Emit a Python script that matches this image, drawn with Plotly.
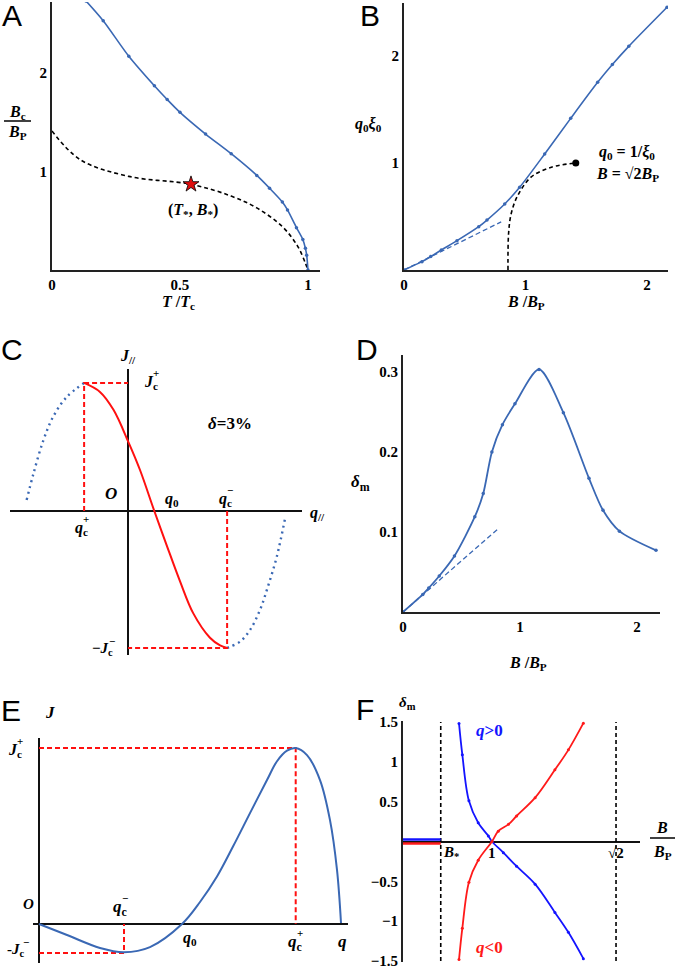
import plotly.graph_objects as go

W, H = 675, 968

# ---------------- DATA ----------------
# Panel A : Bc/BP vs T/Tc
a_blue_t = [0.133, 0.2, 0.3, 0.4, 0.45, 0.5, 0.6, 0.7, 0.8, 0.85, 0.9, 0.92, 0.955, 0.98, 0.99, 0.995, 1.0]
a_blue_b = [2.73, 2.53, 2.17, 1.87, 1.73, 1.60, 1.38, 1.18, 0.96, 0.83, 0.69, 0.61, 0.43, 0.31, 0.22, 0.15, 0.0]
a_dash_t = [0.0, 0.11, 0.3, 0.543, 0.7, 0.8, 0.9, 0.96, 0.99, 1.0]
a_dash_b = [1.41, 1.12, 0.95, 0.87, 0.75, 0.63, 0.44, 0.24, 0.07, 0.0]
a_star_t = [0.543]
a_star_b = [0.87]
a_xticks = [0, 0.5, 1]
a_xtext = ["0", "0.5", "1"]
a_yticks = [1, 2]
a_ytext = ["1", "2"]

# Panel B : q0 xi0 vs B/BP
b_blue_x = [0.0, 0.148, 0.22, 0.307, 0.436, 0.615, 0.683, 0.829, 0.952, 1.158, 1.372, 1.594, 1.715, 1.85, 2.165]
b_blue_y = [0.0, 0.078, 0.125, 0.187, 0.274, 0.405, 0.467, 0.617, 0.773, 1.084, 1.417, 1.754, 1.92, 2.09, 2.455]
b_tan_x = [0.0, 0.80]
b_tan_y = [0.0, 0.45]
b_dash_x = [0.856, 0.861, 0.883, 0.938, 1.048, 1.213, 1.414]
b_dash_y = [0.0, 0.343, 0.53, 0.70, 0.87, 0.96, 1.0]
b_dot_x = [1.414]
b_dot_y = [1.0]
b_xticks = [0, 1, 2]
b_xtext = ["0", "1", "2"]
b_yticks = [1, 2]
b_ytext = ["1", "2"]

# Panel C : J// vs q// (schematic, delta = 3%)
c_red_q = [-1.69, -1.08, -0.56, 0.01, 0.46, 1.01, 1.49, 2.0, 2.51, 3.15, 3.54, 3.81]
c_red_j = [1.0, 0.93, 0.79, 0.54, 0.32, 0.0, -0.27, -0.55, -0.80, -0.99, -1.05, -1.07]
c_bl_q = [-3.9, -3.64, -3.26, -2.87, -2.36, -1.69]
c_bl_j = [0.086, 0.29, 0.55, 0.74, 0.89, 1.0]
c_br_q = [3.81, 3.92, 4.31, 4.69, 5.08, 5.38, 5.72, 6.04]
c_br_j = [-1.07, -1.06, -1.02, -0.93, -0.77, -0.59, -0.357, -0.057]
c_qcp, c_jcp = -1.69, 1.0
c_qcm, c_jcm = 3.81, -1.07

# Panel D : delta_m vs B/BP
d_blue_x = [0.0, 0.169, 0.22, 0.31, 0.44, 0.614, 0.686, 0.76, 0.85, 0.957, 1.163, 1.371, 1.59, 1.71, 1.85, 2.163]
d_blue_y = [0.0, 0.022, 0.030, 0.045, 0.070, 0.119, 0.148, 0.200, 0.234, 0.260, 0.303, 0.249, 0.167, 0.127, 0.101, 0.077]
d_tan_x = [0.0, 0.806]
d_tan_y = [0.0, 0.103]
d_xticks = [0, 1, 2]
d_xtext = ["0", "1", "2"]
d_yticks = [0.1, 0.2, 0.3]
d_ytext = ["0.1", "0.2", "0.3"]

# Panel E : J vs q (schematic)
e_q = [0.0, 0.28, 0.61, 0.85, 1.11, 1.43, 1.61, 1.78, 1.94, 2.11, 2.28, 2.38, 2.48, 2.567, 2.68, 2.81, 2.91, 2.98, 3.02]
e_j = [0.0, -0.0625, -0.136, -0.16, -0.131, 0.0, 0.125, 0.27, 0.44, 0.63, 0.818, 0.925, 0.985, 1.0, 0.96, 0.818, 0.59, 0.307, 0.006]
e_qcp, e_jcp = 2.567, 1.0
e_qcm, e_jcm = 0.85, -0.165

# Panel F : delta_m vs B/BP
f_pos_x = [0.890, 0.901, 0.923, 0.954, 0.988, 1.0, 1.038, 1.082, 1.144, 1.210, 1.255, 1.305]
f_pos_y = [1.48, 1.09, 0.51, 0.235, 0.07, 0.0, -0.14, -0.31, -0.535, -0.89, -1.14, -1.47]
f_neg_x = [0.890, 0.901, 0.923, 0.954, 1.0, 1.021, 1.055, 1.082, 1.144, 1.210, 1.255, 1.305]
f_neg_y = [-1.48, -1.09, -0.51, -0.235, 0.0, 0.13, 0.215, 0.32, 0.55, 0.90, 1.15, 1.485]
f_bstar = 0.829
f_sqrt2 = 1.414
f_xmin = 0.703
f_yticks = [-1.5, -1, -0.5, 0.5, 1, 1.5]
f_ytext = ["\u22121.5", "\u22121", "\u22120.5", "0.5", "1", "1.5"]

# ---------------- STYLE ----------------
BLUE = "#3a68b4"
RED = "#ff1010"
FB = "#1414ff"
FR = "#ff1a1a"
SERIF = "Liberation Serif"
SANS = "Liberation Sans"


def xd(x0, x1):
    return [x0 / W, x1 / W]


def yd(ybot, ytop):
    return [1 - ybot / H, 1 - ytop / H]


def px(x):
    return x / W


def py(y):
    return 1 - y / H


fig = go.Figure()


def add(x, y, ax, **kw):
    fig.add_trace(go.Scatter(x=x, y=y, xaxis="x" + ax, yaxis="y" + ax, showlegend=False,
                             hoverinfo="skip", **kw))


# Panel A
add(a_dash_t, a_dash_b, "", mode="lines", line=dict(color="black", width=1.6, dash="4px,3px", shape="spline"))
add(a_blue_t, a_blue_b, "", mode="lines+markers", line=dict(color=BLUE, width=1.6, shape="spline", smoothing=0.8),
    marker=dict(size=3.5, color=BLUE))
add(a_star_t, a_star_b, "", mode="markers",
    marker=dict(symbol="star", size=12, color="#e01010", line=dict(color="black", width=0.8)))

# Panel B
add(b_tan_x, b_tan_y, "2", mode="lines", line=dict(color=BLUE, width=1.3, dash="5px,3px"))
add(b_dash_x, b_dash_y, "2", mode="lines", line=dict(color="black", width=1.6, dash="4px,3px", shape="spline"))
add(b_dot_x, b_dot_y, "2", mode="markers", marker=dict(size=7, color="black"))
add(b_blue_x, b_blue_y, "2", mode="lines+markers", line=dict(color=BLUE, width=1.6, shape="spline", smoothing=0.8),
    marker=dict(size=3.5, color=BLUE))

# Panel C
add(c_bl_q, c_bl_j, "3", mode="lines", line=dict(color=BLUE, width=2.4, dash="2px,4px", shape="spline"))
add(c_br_q, c_br_j, "3", mode="lines", line=dict(color=BLUE, width=2.4, dash="2px,4px", shape="spline"))
add([c_qcp, c_qcp, 0], [0, c_jcp, c_jcp], "3", mode="lines", line=dict(color=RED, width=2, dash="5px,3px"))
add([c_qcm, c_qcm, 0], [0, c_jcm, c_jcm], "3", mode="lines", line=dict(color=RED, width=2, dash="5px,3px"))
add(c_red_q, c_red_j, "3", mode="lines", line=dict(color=RED, width=2, shape="spline"))

# Panel D
add(d_tan_x, d_tan_y, "4", mode="lines", line=dict(color=BLUE, width=1.3, dash="5px,3px"))
add(d_blue_x, d_blue_y, "4", mode="lines+markers", line=dict(color=BLUE, width=1.8, shape="spline", smoothing=0.8),
    marker=dict(size=3.5, color=BLUE))

# Panel E
add([0, e_qcp, e_qcp], [e_jcp, e_jcp, 0], "5", mode="lines", line=dict(color=RED, width=2, dash="5px,3px"))
add([0, e_qcm, e_qcm], [e_jcm, e_jcm, 0], "5", mode="lines", line=dict(color=RED, width=2, dash="5px,3px"))
add(e_q, e_j, "5", mode="lines", line=dict(color=BLUE, width=2, shape="spline"))

# Panel F
add([f_bstar, f_bstar], [-1.5, 1.5], "6", mode="lines", line=dict(color="black", width=1.6, dash="4px,3px"))
add([f_sqrt2, f_sqrt2], [-1.5, 1.5], "6", mode="lines", line=dict(color="black", width=1.6, dash="4px,3px"))
add([f_xmin, f_bstar], [0.025, 0.025], "6", mode="lines", line=dict(color=FB, width=2.5))
add([f_xmin, f_bstar], [-0.025, -0.025], "6", mode="lines", line=dict(color=FR, width=2.5))
add(f_pos_x, f_pos_y, "6", mode="lines+markers", line=dict(color=FB, width=1.8, shape="spline"),
    marker=dict(size=3, color=FB))
add(f_neg_x, f_neg_y, "6", mode="lines+markers", line=dict(color=FR, width=1.8, shape="spline"),
    marker=dict(size=3, color=FR))

tickfont = dict(family=SERIF, size=15, color="black", weight="bold")


def axis_std(domain, rng, tv, tt, anchor):
    return dict(domain=domain, range=rng, anchor=anchor, showline=True, linecolor="#222", linewidth=2,
                showgrid=False, zeroline=False, ticks="", tickvals=tv, ticktext=tt, tickfont=tickfont,
                fixedrange=True, automargin=False, ticklabeloverflow="allow")


def axis_zero(domain, rng, anchor):
    return dict(domain=domain, range=rng, anchor=anchor, showline=False, showgrid=False, zeroline=True,
                zerolinecolor="#111", zerolinewidth=2, showticklabels=False, ticks="", fixedrange=True,
                automargin=False)


layout = dict(
    template="none",
    width=W, height=H, margin=dict(l=0, r=0, t=0, b=0, pad=0), autosize=False,
    paper_bgcolor="white", plot_bgcolor="white", showlegend=False,
    xaxis=axis_std(xd(52, 320), [0, 1.047], a_xticks, a_xtext, "y"),
    yaxis=axis_std(yd(270, 2), [0, 2.72], a_yticks, a_ytext, "x"),
    xaxis2=axis_std(xd(404, 668), [0, 2.173], b_xticks, b_xtext, "y2"),
    yaxis2=axis_std(yd(270, 3), [0, 2.495], b_yticks, b_ytext, "x2"),
    xaxis3=axis_zero(xd(10, 302), [-4.54, 6.69], "y3"),
    yaxis3=axis_zero(yd(655, 369), [-1.125, 1.109], "x3"),
    xaxis4=axis_std(xd(403, 660), [0, 2.197], d_xticks, d_xtext, "y4"),
    yaxis4=axis_std(yd(612, 355), [0, 0.321], d_yticks, d_ytext, "x4"),
    xaxis5=axis_zero(xd(33, 348), [-0.06, 3.09], "y5"),
    yaxis5=axis_zero(yd(963, 738), [-0.2216, 1.057], "x5"),
    xaxis6=dict(domain=xd(403, 640), range=[f_xmin, 1.494], anchor="y6", showline=False, showgrid=False,
                zeroline=False, showticklabels=False, ticks="", fixedrange=True, automargin=False),
    yaxis6=dict(domain=yd(962, 721), range=[-1.512, 1.512], anchor="x6", showline=True, linecolor="#222",
                linewidth=2, showgrid=False, zeroline=True, zerolinecolor="#111", zerolinewidth=1.6,
                ticks="", tickvals=f_yticks, ticktext=f_ytext, tickfont=tickfont, fixedrange=True,
                automargin=False, ticklabeloverflow="allow"),
)
fig.update_layout(**layout)

ann = []


def label(x, y, text, size=16, color="black", family=SERIF, xanchor="center"):
    ann.append(dict(x=px(x), y=py(y), xref="paper", yref="paper", text=text, showarrow=False,
                    xanchor=xanchor, yanchor="middle", font=dict(family=family, size=size, color=color)))


def stacked(x, y, base, sub, sup, size=16):
    # base letter with subscript, and superscript stacked above the subscript
    label(x, y, "<b>" + base + "<sub>" + sub + "</sub></b>", size=size)
    if sup:
        label(x + size * 0.30, y - size * 0.56, "<b>" + sup + "</b>", size=int(size * 0.7))


# panel letters
for t, x, y in [("A", 12, 16), ("B", 370, 16), ("C", 12, 349), ("D", 367, 350), ("E", 11, 710), ("F", 365, 709)]:
    label(x, y, t, size=30, family=SANS)

# Panel A labels
label(17, 112, "<b><i>B</i><sub>c</sub></b>", size=16)
label(17, 132, "<b><i>B</i><sub>P</sub></b>", size=16)
label(178, 302, "<b><i>T</i> /<i>T</i><sub>c</sub></b>", size=16)
label(193, 210, "<b>(<i>T</i><sub>*</sub>, <i>B</i><sub>*</sub>)</b>", size=16)

# Panel B labels
label(368, 125, "<b><i>q</i><sub>0</sub><i>ξ</i><sub>0</sub></b>", size=16)
label(526, 302, "<b><i>B</i> /<i>B</i><sub>P</sub></b>", size=16)
label(627, 152, "<b><i>q</i><sub>0</sub> = 1/<i>ξ</i><sub>0</sub></b>", size=16)
label(627, 174, "<b><i>B</i> = √2<i>B</i><sub>P</sub></b>", size=16)

# Panel C labels
label(128, 356, "<b><i>J</i><sub>//</sub></b>", size=16)
stacked(151, 382, "<i>J</i>", "c", "+", size=16)
label(230, 423, "<b><i>δ</i>=3%</b>", size=17)
label(111, 493, "<b><i>O</i></b>", size=17)
label(172, 500, "<b><i>q</i><sub>0</sub></b>", size=16)
stacked(225, 499, "<i>q</i>", "c", "−", size=16)
stacked(81, 528, "<i>q</i>", "c", "+", size=16)
label(317, 513, "<b><i>q</i><sub>//</sub></b>", size=16)
stacked(102, 649, "−<i>J</i>", "c", "", size=15)
label(112, 641, "<b>−</b>", size=11)

# Panel D labels
label(360, 483, "<b><i>δ</i><sub>m</sub></b>", size=17)
label(528, 663, "<b><i>B</i> /<i>B</i><sub>P</sub></b>", size=16)

# Panel E labels
label(50, 712, "<b><i>J</i></b>", size=17)
stacked(15, 750, "<i>J</i>", "c", "+", size=16)
label(28, 904, "<b><i>O</i></b>", size=15)
stacked(120, 908, "<i>q</i>", "c", "−", size=17)
stacked(16, 950, "-<i>J</i>", "c", "", size=15)
label(26, 942, "<b>−</b>", size=11)
label(190, 938, "<b><i>q</i><sub>0</sub></b>", size=16)
stacked(295, 943, "<i>q</i>", "c", "+", size=17)
label(342, 941, "<b><i>q</i></b>", size=17)

# Panel F labels
label(407, 703, "<b><i>δ</i><sub>m</sub></b>", size=15)
label(489, 730, "<b><i>q</i>>0</b>", size=17, color=FB)
label(489, 947, "<b><i>q</i><0</b>", size=17, color=FR)
label(451, 853, "<b><i>B</i><sub>*</sub></b>", size=15)
label(492, 853, "<b>1</b>", size=15)
label(616, 853, "<b>√2</b>", size=15)
label(662, 827, "<b><i>B</i></b>", size=16)
label(662, 852, "<b><i>B</i><sub>P</sub></b>", size=16)

fig.update_layout(annotations=ann)

# fraction bars
shapes = [
    dict(type="line", xref="paper", yref="paper", x0=px(4), x1=px(31), y0=py(121), y1=py(121),
         line=dict(color="black", width=1.5)),
    dict(type="line", xref="paper", yref="paper", x0=px(650), x1=px(675), y0=py(838), y1=py(838),
         line=dict(color="black", width=1.5)),
]
fig.update_layout(shapes=shapes)

# remove the browser's default 8px page margin so the figure fills the window exactly
fig.write_html("out.html", config={"displayModeBar": False},
               post_script="document.body.style.margin='0';document.body.style.overflow='hidden';")
